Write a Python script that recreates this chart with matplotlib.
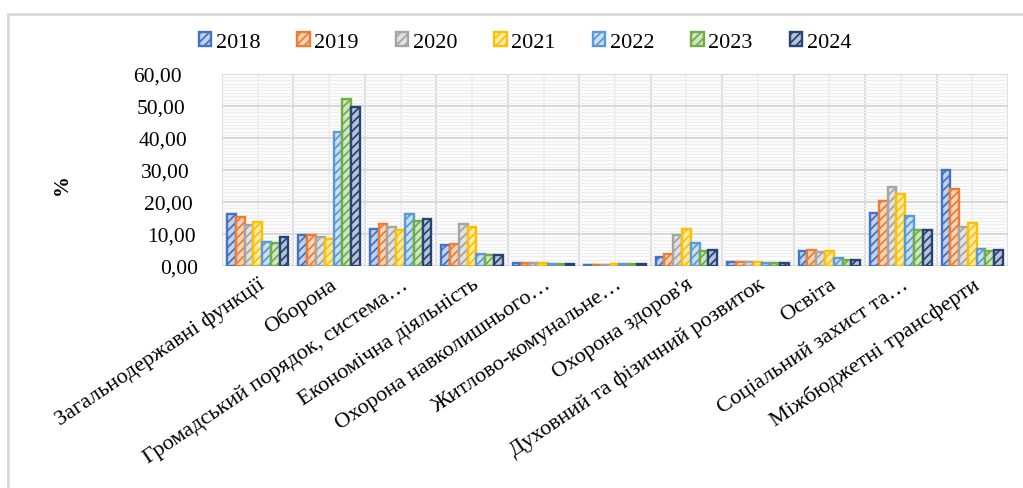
import matplotlib
matplotlib.use("Agg")
import matplotlib.pyplot as plt
import numpy as np
from matplotlib.patches import Rectangle
from matplotlib.ticker import MultipleLocator, FixedLocator

plt.rcParams['font.family'] = ['Liberation Serif', 'DejaVu Serif']
plt.rcParams['hatch.linewidth'] = 1.3

categories = [
    "Загальнодержавні функції",
    "Оборона",
    "Громадський порядок, система…",
    "Економічна діяльність",
    "Охорона навколишнього…",
    "Житлово-комунальне…",
    "Охорона здоров'я",
    "Духовний та фізичний розвиток",
    "Освіта",
    "Соціальний захист та…",
    "Міжбюджетні трансферти",
]
years = ["2018", "2019", "2020", "2021", "2022", "2023", "2024"]

# share of expenditures, %
v2018 = [16.3, 9.8, 11.6, 6.7, 0.9, 0.4, 2.8, 1.3, 4.7, 16.6, 30.0]
v2019 = [15.3, 9.8, 13.0, 7.0, 1.0, 0.4, 3.8, 1.3, 5.0, 20.2, 24.0]
v2020 = [12.7, 9.0, 12.1, 13.1, 0.9, 0.4, 9.8, 1.2, 4.4, 24.8, 12.2]
v2021 = [13.7, 8.4, 11.4, 12.1, 1.0, 0.5, 11.5, 1.4, 4.6, 22.6, 13.4]
v2022 = [7.5, 42.0, 16.2, 3.6, 0.7, 0.5, 7.1, 0.9, 2.5, 15.5, 5.2]
v2023 = [7.3, 52.2, 14.1, 3.5, 0.7, 0.6, 4.7, 0.8, 1.9, 11.4, 4.7]
v2024 = [9.0, 49.6, 14.8, 3.3, 0.7, 0.6, 5.0, 0.8, 1.9, 11.1, 5.0]
series = [v2018, v2019, v2020, v2021, v2022, v2023, v2024]

colors = ['#4472C4', '#ED7D31', '#A5A5A5', '#FFC000', '#5B9BD5', '#70AD47', '#264478']
yticks = [0, 10, 20, 30, 40, 50, 60]


def tint(c, k=0.68):
    rgb = np.array(matplotlib.colors.to_rgb(c))
    return tuple(rgb + (1 - rgb) * k)


fig = plt.figure(figsize=(10.23, 4.89), dpi=100)
ax = fig.add_axes([222 / 1023, 1 - 267 / 489, (1008 - 222) / 1023, (267 - 75) / 489])

# light frame around the chart
fig.add_artist(Rectangle((8 / 1023, -0.1), 1.2, 1 - 15 / 489 + 0.1, transform=fig.transFigure,
                         fill=False, edgecolor='#d9d9d9', linewidth=2))

x = np.arange(len(categories))
n = len(series)
w = 0.123
for i, (vals, c, yr) in enumerate(zip(series, colors, years)):
    ax.bar(x + (i - (n - 1) / 2) * w, vals, width=w, facecolor=tint(c), edgecolor=c,
           linewidth=1.7, hatch='////', label=yr, zorder=3)

ax.set_xlim(-0.5, len(categories) - 0.5)
ax.set_ylim(0, 60)
ax.yaxis.set_major_locator(FixedLocator(yticks))
ax.yaxis.set_minor_locator(MultipleLocator(1))
ax.set_yticklabels([f"{t:.2f}".replace('.', ',') for t in yticks], fontsize=15.5)
ax.xaxis.set_major_locator(FixedLocator(x))
ax.xaxis.set_minor_locator(FixedLocator(np.arange(-0.5, len(categories), 1.0)))
ax.set_xticklabels(categories, fontsize=16, rotation=34, ha='right', rotation_mode='anchor')

ax.grid(which='major', axis='y', color='#d9d9d9', linewidth=1.5, zorder=0)
ax.grid(which='minor', axis='y', color='#eeeeee', linewidth=1.0, zorder=0)
ax.grid(which='minor', axis='x', color='#d9d9d9', linewidth=1.5, zorder=0)
ax.grid(which='major', axis='x', color='#eeeeee', linewidth=1.2, zorder=0)
ax.set_axisbelow(True)
for s in ax.spines.values():
    s.set_visible(False)
ax.tick_params(which='both', length=0)
ax.tick_params(axis='x', pad=6)

# tick labels drift slightly right toward the bottom (as in the picture)
pads = [17, 19, 21, 23, 25, 26, 29]
for tk, p in zip(ax.yaxis.get_major_ticks(), pads):
    tk.set_pad(p)

fig.text(62 / 1023, 1 - 185 / 489, '%', rotation=90, fontsize=15, fontweight='bold',
         ha='center', va='center')

ax.legend(loc='center', bbox_to_anchor=(525 / 1023, 1 - 43 / 489), bbox_transform=fig.transFigure,
          ncol=7, frameon=False, fontsize=16, handlelength=0.55, handleheight=0.55,
          handletextpad=0.2, columnspacing=1.68)

fig.savefig('out.png', dpi=100)
